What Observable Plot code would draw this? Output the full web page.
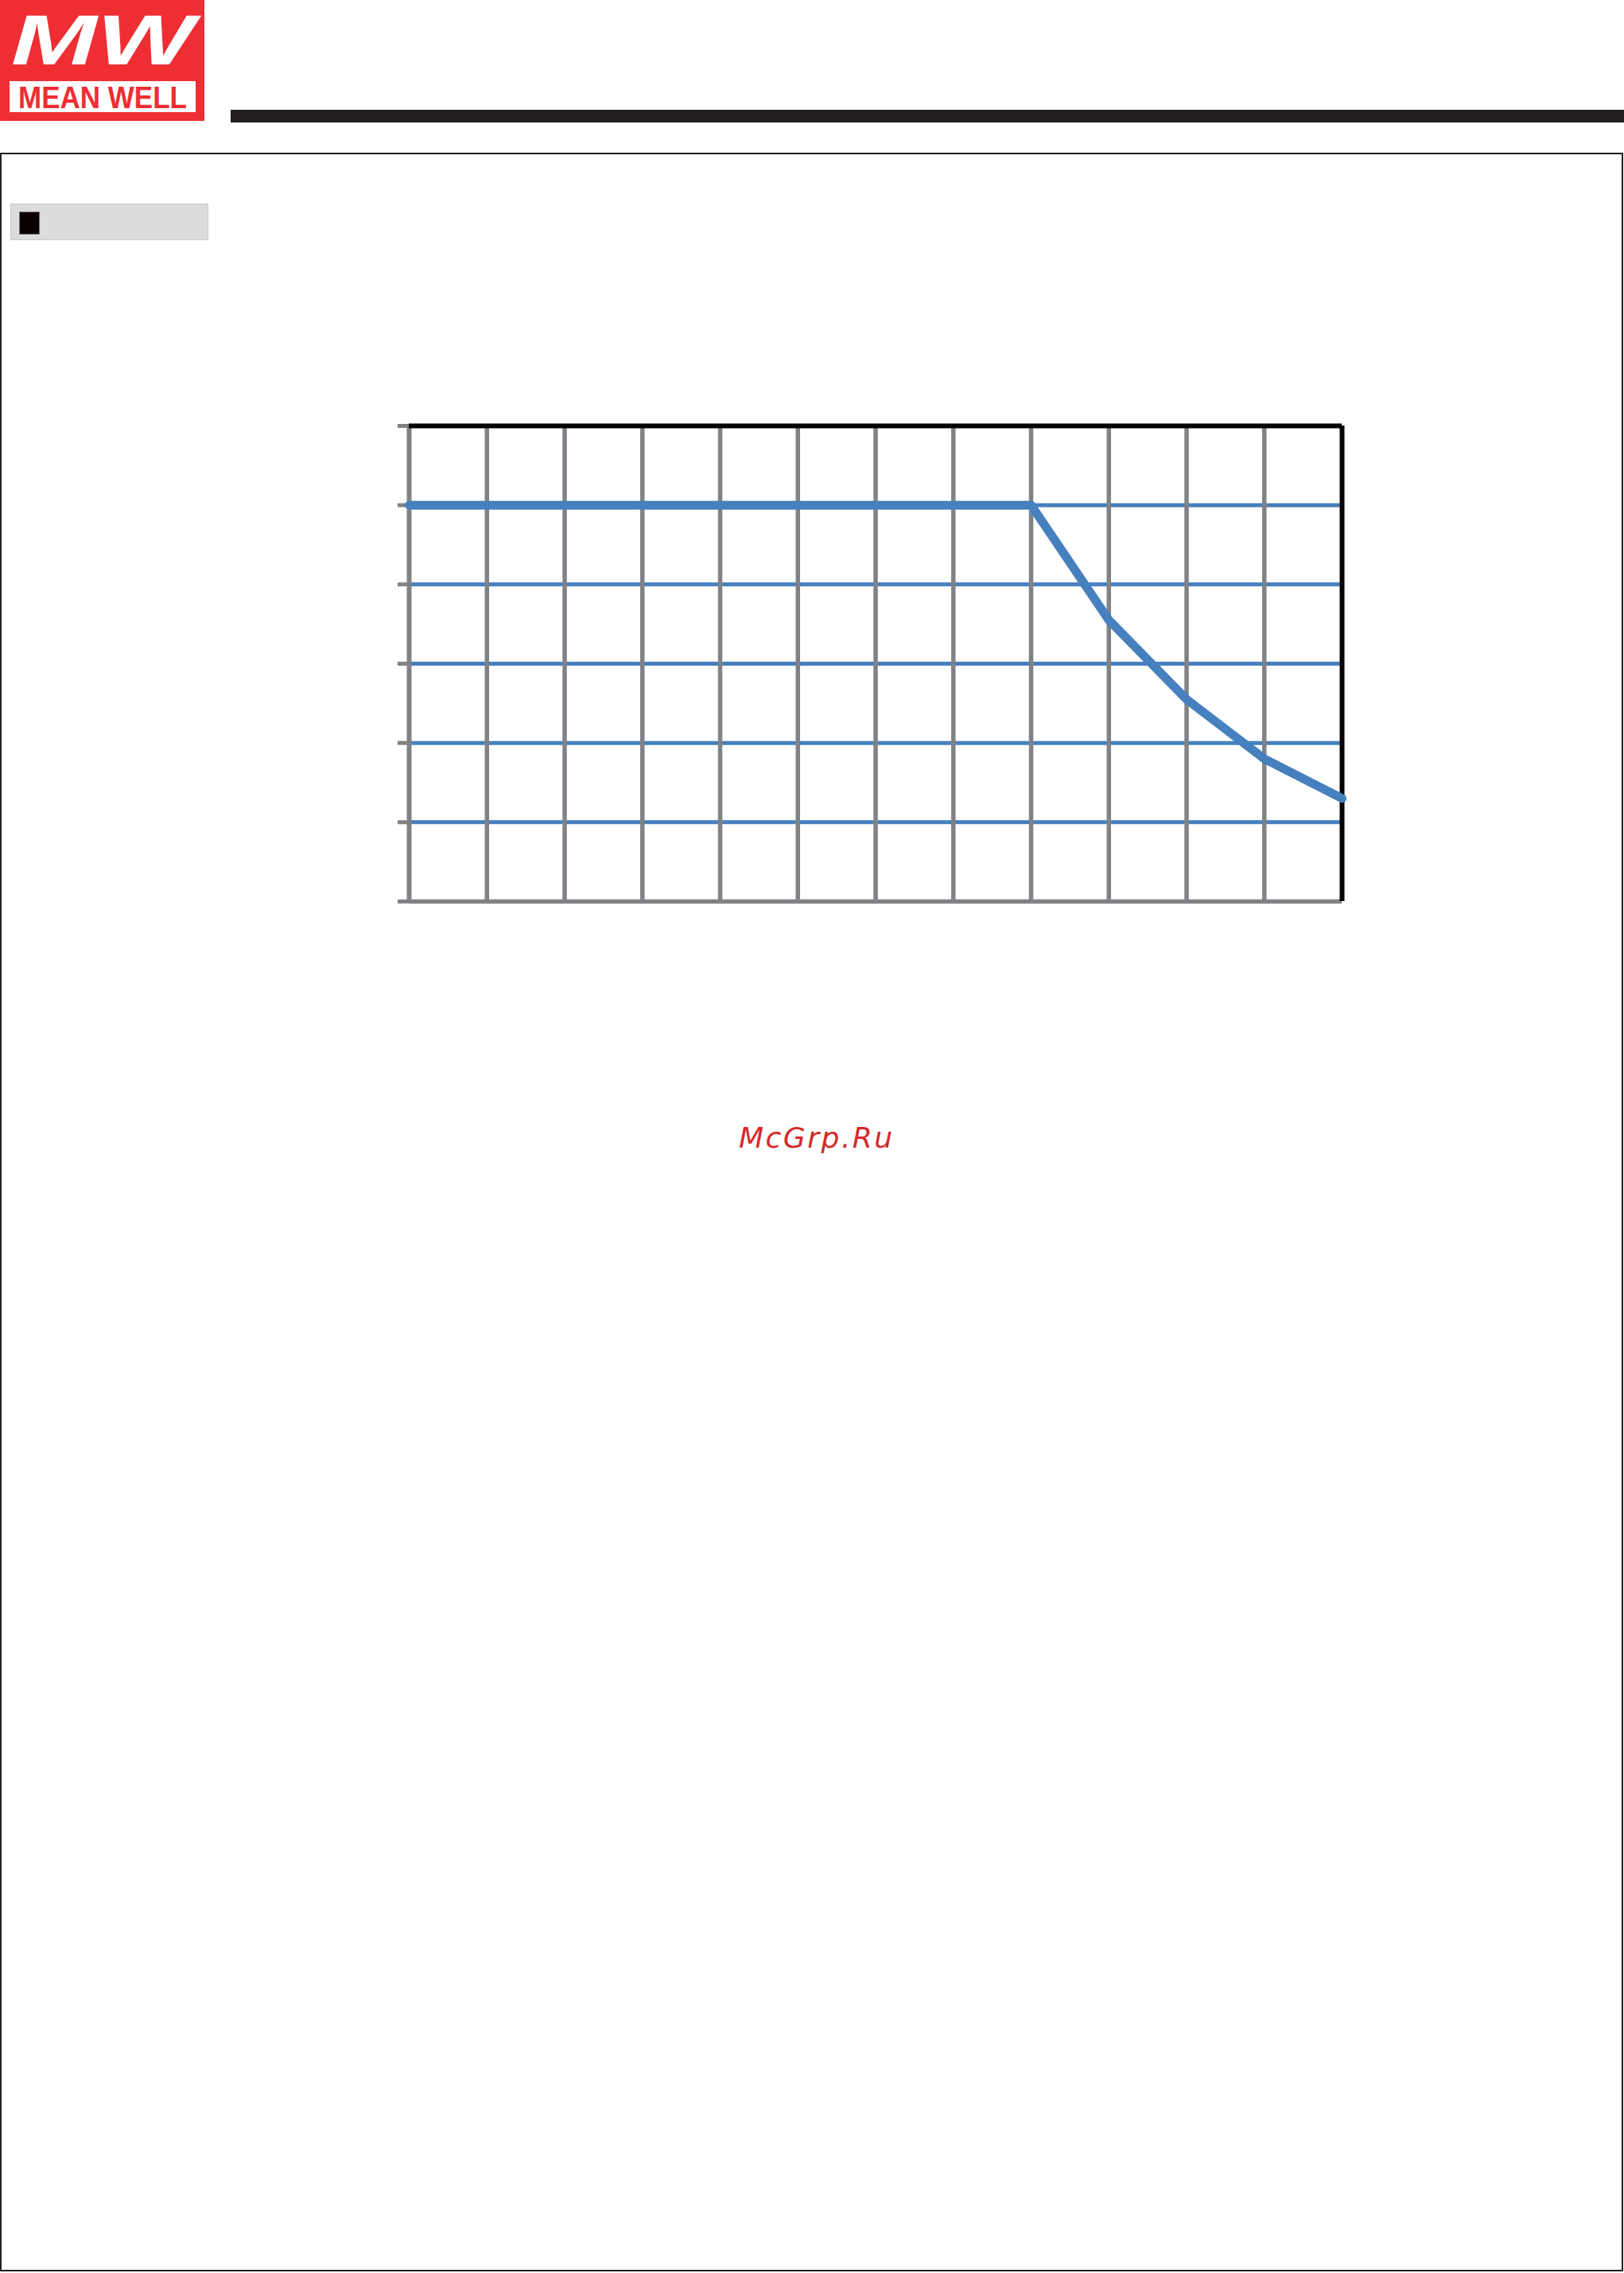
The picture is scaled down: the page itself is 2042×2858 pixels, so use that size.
<!DOCTYPE html>
<html>
<head>
<meta charset="utf-8">
<script src="https://cdn.jsdelivr.net/npm/d3@7"></script>
<script src="https://cdn.jsdelivr.net/npm/@observablehq/plot@0.6"></script>
<style>
  html, body { margin: 0; padding: 0; background: #ffffff; overflow: hidden; }
  #page { position: relative; width: 2042px; height: 2858px; background: #ffffff; }
  #deco { position: absolute; left: 0; top: 0; }
  #chart { position: absolute; left: 0; top: 480px; }
  #chart svg { background: transparent; max-width: none; }
</style>
</head>
<body>
<div id="page">
  <svg id="deco" width="2042" height="2858" xmlns="http://www.w3.org/2000/svg">
    <!-- logo -->
    <rect x="0" y="0" width="257" height="152" fill="#EE2E33"/>
    <text x="14" y="81" fill="#ffffff" font-family="Liberation Sans" font-weight="bold" font-style="italic"
          font-size="89" textLength="230" lengthAdjust="spacingAndGlyphs">MW</text>
    <rect x="12" y="102" width="234" height="39" fill="#ffffff"/>
    <text x="23" y="136" fill="#EE2E33" font-family="Liberation Sans" font-weight="bold"
          font-size="39" textLength="212" lengthAdjust="spacingAndGlyphs">MEAN WELL</text>
    <!-- header bar -->
    <rect x="290" y="138" width="1752" height="16" fill="#231F20"/>
    <!-- page frame -->
    <rect x="1" y="193" width="2039" height="2662" fill="none" stroke="#231F20" stroke-width="2"/>
    <!-- section tag -->
    <rect x="13.5" y="256.5" width="248" height="45" fill="#DCDCDC" stroke="#C8C8C8" stroke-width="1"/>
    <rect x="24.5" y="266.5" width="25" height="28" fill="#0A0000" stroke="#777777" stroke-width="1"/>
    <!-- watermark -->
    <text x="929" y="1443" fill="#D42A2A" font-family="DejaVu Sans" font-style="oblique"
          font-size="36" letter-spacing="2.5">McGrp.Ru</text>
  </svg>
  <div id="chart"></div>
</div>
<script>
// ---- data ----
const temps = [-30, 50, 60, 70, 80, 90];        // ambient temperature (°C)
const loads = [100, 100, 71, 51, 36, 26];        // load (%)
const xTicks = [-30, -20, -10, 0, 10, 20, 30, 40, 50, 60, 70, 80, 90];
const yTicks = [0, 20, 40, 60, 80, 100, 120];

const curve = temps.map((t, i) => ({temp: t, load: loads[i]}));

const gray = "#808285";
const blue = "#4680BE";
const black = "#050000";

const xMin = xTicks[0], xMax = xTicks[xTicks.length - 1];
const yMin = yTicks[0], yMax = yTicks[yTicks.length - 1];

const plot = Plot.plot({
  width: 2042,
  height: 720,
  marginLeft: 514,
  marginRight: 355,
  marginTop: 55,
  marginBottom: 67,
  style: {background: "transparent"},
  x: {domain: [xMin, xMax], axis: null},
  y: {domain: [yMin, yMax], axis: null},
  marks: [
    Plot.ruleY(yTicks.filter(v => v > yMin && v < yMax), {stroke: blue, strokeWidth: 5}),
    Plot.ruleX(xTicks.filter(v => v > xMin && v < xMax), {stroke: gray, strokeWidth: 5.5}),
    Plot.ruleX([xMin], {stroke: gray, strokeWidth: 6}),
    Plot.ruleY([yMin], {stroke: gray, strokeWidth: 5.5}),
    Plot.axisY(yTicks, {tickSize: 14, tickFormat: () => "", stroke: gray, strokeWidth: 5, label: null}),
    Plot.ruleY([yMax], {stroke: black, strokeWidth: 6}),
    Plot.ruleX([xMax], {stroke: black, strokeWidth: 6}),
    Plot.line(curve, {x: "temp", y: "load", stroke: blue, strokeWidth: 11, strokeLinejoin: "round", strokeLinecap: "round"})
  ]
});
document.getElementById("chart").appendChild(plot);
</script>
</body>
</html>
